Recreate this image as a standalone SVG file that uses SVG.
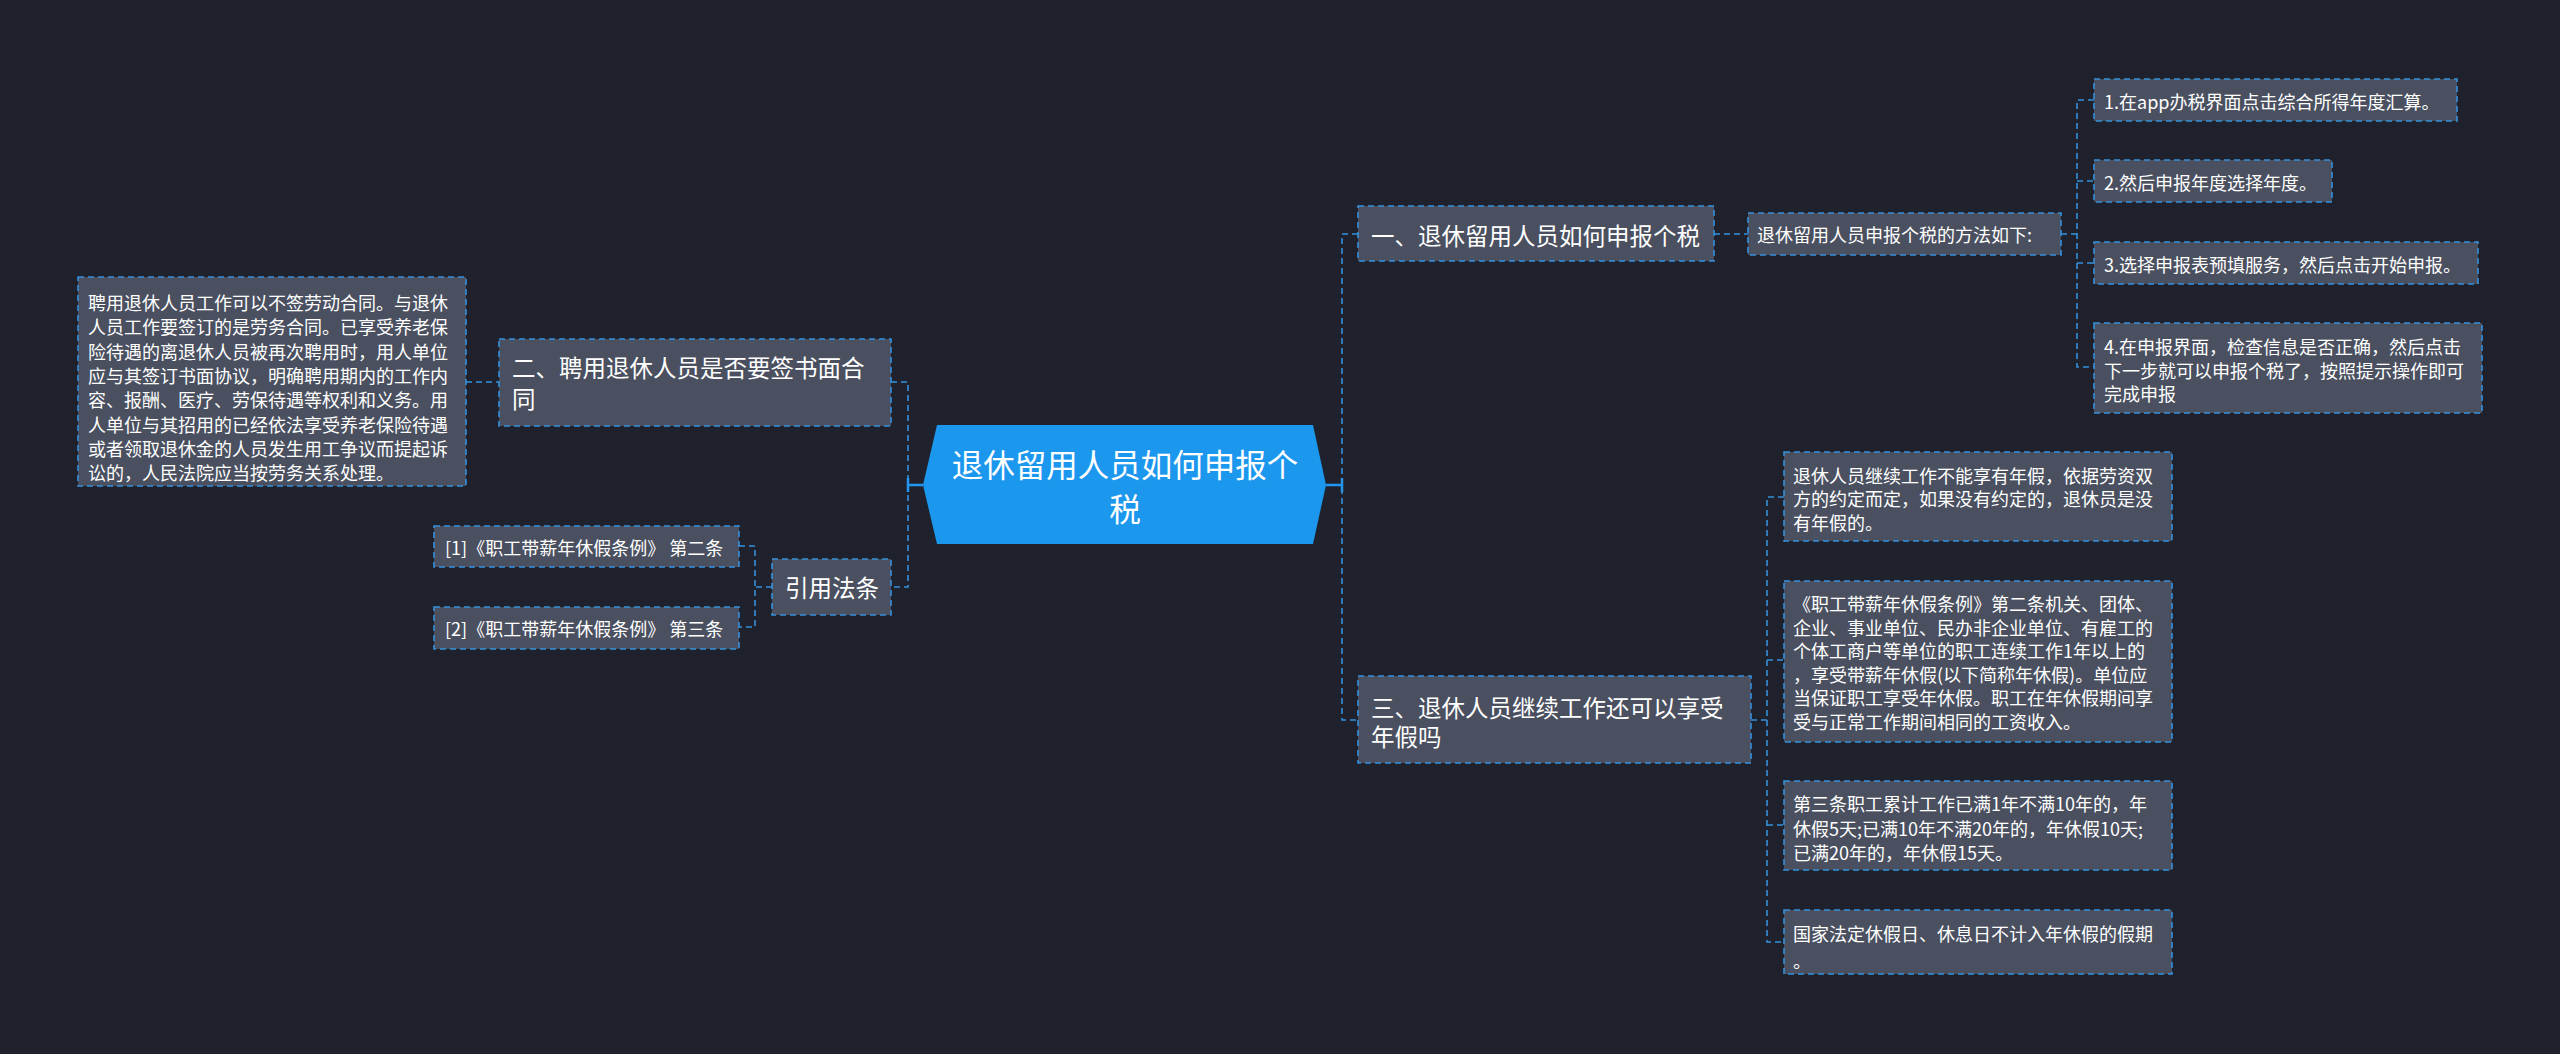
<svg xmlns="http://www.w3.org/2000/svg" width="2560" height="1054" viewBox="0 0 2560 1054">
<style>
.bg{fill:#1f222c}
.box{fill:#4a5060;stroke:#3590dc;stroke-width:1.6;stroke-dasharray:6 4}
.conn{fill:none;stroke:#3590dc;stroke-width:1.6;stroke-dasharray:6 4}
.solid{fill:none;stroke:#2196f3;stroke-width:2.5}
.t{fill:#ffffff;font-family:"Noto Sans CJK SC","Noto Sans",sans-serif;dominant-baseline:central}
.s{font-size:18px}
.m{font-size:23.5px}
.r{font-size:31.5px}
</style>
<rect class="bg" x="0" y="0" width="2560" height="1054"/>
<g id="connectors">
<path class="conn" d="M466,382 H499"/>
<path class="conn" d="M891,382 H908 V587 H891"/>
<path class="solid" d="M923,485 H908 M908,478 V492"/>
<path class="conn" d="M772,587 H755"/>
<path class="conn" d="M739,546 H755 V627 H739"/>
<path class="solid" d="M1326,485 H1342 M1342,478 V492"/>
<path class="conn" d="M1358,234 H1342 V720 H1358"/>
<path class="conn" d="M1714,234 H1748"/>
<path class="conn" d="M2061,234 H2077"/>
<path class="conn" d="M2094,100 H2077 V367 H2094"/>
<path class="conn" d="M2077,181 H2094"/>
<path class="conn" d="M2077,263 H2094"/>
<path class="conn" d="M1751,720 H1767"/>
<path class="conn" d="M1784,497 H1767 V942 H1784"/>
<path class="conn" d="M1767,660 H1784"/>
<path class="conn" d="M1767,825 H1784"/>
</g>
<g id="root">
<polygon points="937,425 1313,425 1326,485 1313,544 937,544 923,485" fill="#1c97ee"/>
<text class="t r" x="1125" y="463" text-anchor="middle">退休留用人员如何申报个</text>
<text class="t r" x="1125" y="507" text-anchor="middle">税</text>
</g>
<g id="node-detail">
<rect class="box" x="78" y="277" width="388" height="209"/>
<text class="t s" x="88" y="302">聘用退休人员工作可以不签劳动合同。与退休</text>
<text class="t s" x="88" y="326.3">人员工作要签订的是劳务合同。已享受养老保</text>
<text class="t s" x="88" y="350.6">险待遇的离退休人员被再次聘用时，用人单位</text>
<text class="t s" x="88" y="374.9">应与其签订书面协议，明确聘用期内的工作内</text>
<text class="t s" x="88" y="399.2">容、报酬、医疗、劳保待遇等权利和义务。用</text>
<text class="t s" x="88" y="423.5">人单位与其招用的已经依法享受养老保险待遇</text>
<text class="t s" x="88" y="447.8">或者领取退休金的人员发生用工争议而提起诉</text>
<text class="t s" x="88" y="472.1">讼的，人民法院应当按劳务关系处理。</text>
</g>
<g id="node-2">
<rect class="box" x="499" y="339" width="392" height="87"/>
<text class="t m" x="512" y="367">二、聘用退休人员是否要签书面合</text>
<text class="t m" x="512" y="398">同</text>
</g>
<g id="node-law">
<rect class="box" x="772" y="559" width="119" height="56"/>
<text class="t m" x="785" y="587">引用法条</text>
</g>
<g id="node-law1">
<rect class="box" x="434" y="526" width="305" height="41"/>
<text class="t s" x="445" y="547">[1]《职工带薪年休假条例》 第二条</text>
</g>
<g id="node-law2">
<rect class="box" x="434" y="607" width="305" height="42"/>
<text class="t s" x="445" y="628">[2]《职工带薪年休假条例》 第三条</text>
</g>
<g id="node-1">
<rect class="box" x="1358" y="206" width="356" height="55"/>
<text class="t m" x="1371" y="235">一、退休留用人员如何申报个税</text>
</g>
<g id="node-method">
<rect class="box" x="1748" y="213" width="313" height="42"/>
<text class="t s" x="1757" y="234">退休留用人员申报个税的方法如下:</text>
</g>
<g id="node-step1">
<rect class="box" x="2094" y="79" width="363" height="42"/>
<text class="t s" x="2104" y="101">1.在app办税界面点击综合所得年度汇算。</text>
</g>
<g id="node-step2">
<rect class="box" x="2094" y="160" width="238" height="42"/>
<text class="t s" x="2104" y="182">2.然后申报年度选择年度。</text>
</g>
<g id="node-step3">
<rect class="box" x="2094" y="242" width="384" height="42"/>
<text class="t s" x="2104" y="264">3.选择申报表预填服务，然后点击开始申报。</text>
</g>
<g id="node-step4">
<rect class="box" x="2094" y="323" width="388" height="90"/>
<text class="t s" x="2104" y="346">4.在申报界面，检查信息是否正确，然后点击</text>
<text class="t s" x="2104" y="370">下一步就可以申报个税了，按照提示操作即可</text>
<text class="t s" x="2104" y="393">完成申报</text>
</g>
<g id="node-3">
<rect class="box" x="1358" y="676" width="393" height="87"/>
<text class="t m" x="1371" y="707">三、退休人员继续工作还可以享受</text>
<text class="t m" x="1371" y="736">年假吗</text>
</g>
<g id="node-c1">
<rect class="box" x="1784" y="452" width="388" height="89"/>
<text class="t s" x="1793" y="475">退休人员继续工作不能享有年假，依据劳资双</text>
<text class="t s" x="1793" y="498">方的约定而定，如果没有约定的，退休员是没</text>
<text class="t s" x="1793" y="522">有年假的。</text>
</g>
<g id="node-c2">
<rect class="box" x="1784" y="581" width="388" height="161"/>
<text class="t s" x="1793" y="603">《职工带薪年休假条例》第二条机关、团体、</text>
<text class="t s" x="1793" y="627">企业、事业单位、民办非企业单位、有雇工的</text>
<text class="t s" x="1793" y="650">个体工商户等单位的职工连续工作1年以上的</text>
<text class="t s" x="1793" y="674">，享受带薪年休假(以下简称年休假)。单位应</text>
<text class="t s" x="1793" y="697">当保证职工享受年休假。职工在年休假期间享</text>
<text class="t s" x="1793" y="721">受与正常工作期间相同的工资收入。</text>
</g>
<g id="node-c3">
<rect class="box" x="1784" y="781" width="388" height="89"/>
<text class="t s" x="1793" y="803">第三条职工累计工作已满1年不满10年的，年</text>
<text class="t s" x="1793" y="828">休假5天;已满10年不满20年的，年休假10天;</text>
<text class="t s" x="1793" y="852">已满20年的，年休假15天。</text>
</g>
<g id="node-c4">
<rect class="box" x="1784" y="910" width="388" height="64"/>
<text class="t s" x="1793" y="933">国家法定休假日、休息日不计入年休假的假期</text>
<text class="t s" x="1793" y="960">。</text>
</g>
</svg>
